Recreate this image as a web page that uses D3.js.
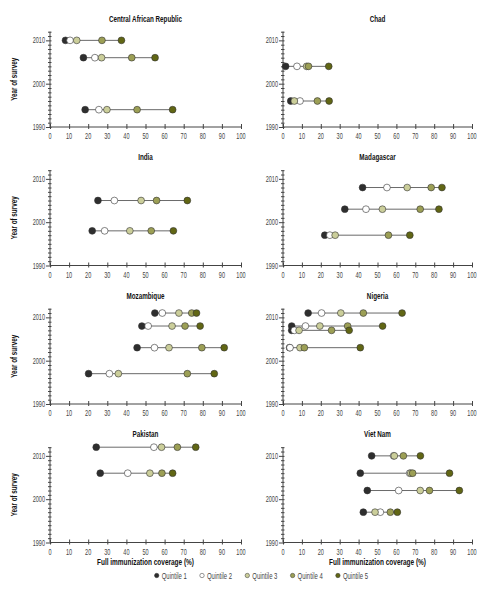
<!DOCTYPE html>
<html><head><meta charset="utf-8">
<script src="https://cdn.jsdelivr.net/npm/d3@7"></script>
<style>
body{margin:0;background:#fff}
svg{display:block;font-family:"Liberation Sans",Arial,sans-serif}
</style>
</head><body>
<svg id="chart" width="499" height="593"></svg>
<script>
// ---------- data ----------
const countries = ["Central African Republic","Chad","India","Madagascar","Mozambique","Nigeria","Pakistan","Viet Nam"];
const surveyYears = [
  [2010, 2006, 1994],
  [2004, 1996],
  [2005, 1998],
  [2008, 2003, 1997],
  [2011, 2008, 2003, 1997],
  [2011, 2008, 2007, 2003],
  [2012, 2006],
  [2010, 2006, 2002, 1997]
];
const quintile1 = [[8.1,17.5,18.4],[1.4,4.1],[25.1,22.1],[42.1,32.7,22.1],[54.9,48.1,45.6,20.2],[13.3,4.6,4.6,3.5],[24.2,26.3],[46.9,40.9,44.6,42.5]];
const quintile2 = [[10.5,23.5,25.6],[7.4,9.0],[33.7,28.6],[55.0,43.9,24.8],[58.8,51.4,54.7,31.1],[20.4,11.9,6.0,3.7],[54.4,40.7],[58.5,67.0,61.2,51.5]];
const quintile3 = [[14.0,27.0,29.8],[12.5,6.0],[47.7,41.8],[65.7,52.6,27.6],[67.5,63.9,62.3,35.8],[30.6,19.5,8.5,9.0],[58.4,52.3],[58.9,67.6,72.6,48.7]];
const quintile4 = [[27.2,42.8,45.6],[13.5,18.2],[55.8,53.0],[78.4,72.6,55.8],[74.2,70.7,79.5,71.9],[42.5,34.2,25.7,11.3],[66.7,58.6],[63.7,68.6,77.5,56.8]];
const quintile5 = [[37.4,55.0,64.2],[24.2,24.4],[71.9,64.6],[84.1,82.5,67.1],[76.7,78.6,91.2,86.0],[63.0,52.7,35.0,40.9],[76.3,64.2],[72.7,88.1,93.3,60.5]];
const quintileNames = ["Quintile 1","Quintile 2","Quintile 3","Quintile 4","Quintile 5"];
const quintileColors = ["#2e2e2e","#ffffff","#cbce9a","#9c9f55","#616614"];
const xTickValues = [0,10,20,30,40,50,60,70,80,90,100];
const yTickValues = [1990,2000,2010];
const yDomain = [1990, 2012];
const xDomain = [0, 100];
const xTitle = "Full immunization coverage (%)";
const yTitle = "Year of survey";

// ---------- helpers ----------
function label(parent, x, y, str, o) {
  o = o || {};
  let tr = `translate(${x},${y})`;
  if (o.rotate) tr += ` rotate(${o.rotate})`;
  tr += ` scale(${o.sx || 0.7},1)`;
  return parent.append("text").attr("transform", tr)
    .attr("text-anchor", o.anchor || "start")
    .attr("font-size", o.size || 9)
    .attr("font-weight", o.weight || "normal")
    .attr("fill", o.fill || "#444")
    .text(str);
}

// ---------- layout ----------
const svg = d3.select("#chart");
const colX = [[50, 241], [283, 472]];
const rowBottom = [127, 265.5, 404, 542.5];
const plotH = 95.3;
const axisColor = "#444";
const allQ = [quintile1, quintile2, quintile3, quintile4, quintile5];

countries.forEach((name, i) => {
  const col = i % 2, row = Math.floor(i / 2);
  const [x0, x1] = colX[col];
  const yb = rowBottom[row];
  const x = d3.scaleLinear().domain(xDomain).range([x0, x1]);
  const y = d3.scaleLinear().domain(yDomain).range([yb, yb - plotH]);
  const g = svg.append("g");

  // y axis (minor every year, labelled every 10)
  const yAxis = d3.axisLeft(y)
    .tickValues(d3.range(yDomain[0], yDomain[1] + 1))
    .tickSize(2).tickFormat("");
  const ya = g.append("g").attr("transform", `translate(${x0},0)`).call(yAxis);
  ya.select(".domain").remove();
  ya.selectAll(".tick line").attr("stroke", axisColor).attr("x1", 1.5)
    .attr("x2", d => yTickValues.includes(d) ? -4 : -2);
  g.append("line").attr("x1", x0).attr("x2", x0).attr("y1", y(yDomain[1])).attr("y2", yb).attr("stroke", axisColor);
  yTickValues.forEach(v => label(g, x0 - 5, y(v) + 3, v, {anchor: "end", size: 8.4, sx: 0.66}));

  // x axis
  const xAxis = d3.axisBottom(x).tickValues(xTickValues).tickSize(2).tickFormat("");
  const xa = g.append("g").attr("transform", `translate(0,${yb})`).call(xAxis);
  xa.select(".domain").remove();
  xa.selectAll(".tick line").attr("stroke", axisColor).attr("y1", -3);
  g.append("line").attr("x1", x0).attr("x2", x1).attr("y1", yb).attr("y2", yb).attr("stroke", axisColor);
  xTickValues.forEach(v => label(g, x(v), yb + 12, v, {anchor: "middle", size: 8.4, sx: 0.66}));

  // panel title
  label(g, (x0 + x1) / 2, y(yDomain[1]) - 10, name, {anchor: "middle", size: 9, weight: "bold", fill: "#111", sx: 0.7});

  if (col === 0) {
    label(g, 16.5, (yb + y(yDomain[1])) / 2, yTitle, {anchor: "middle", size: 9, weight: "bold", fill: "#111", sx: 0.7, rotate: -90});
  }
  if (row === 3) {
    label(g, (x0 + x1) / 2, yb + 22.5, xTitle, {anchor: "middle", size: 9, weight: "bold", fill: "#111", sx: 0.72});
  }

  // survey rows
  surveyYears[i].forEach((yr, j) => {
    const vals = allQ.map(q => q[i][j]);
    const lo = d3.min(vals), hi = d3.max(vals);
    g.append("line").attr("x1", x(lo)).attr("x2", x(hi)).attr("y1", y(yr)).attr("y2", y(yr))
      .attr("stroke", "#6a6a6a").attr("stroke-width", 1);
    vals.forEach((v, k) => {
      g.append("circle").attr("cx", x(v)).attr("cy", y(yr)).attr("r", 3.4)
        .attr("fill", quintileColors[k]).attr("stroke", "#333").attr("stroke-width", 0.6);
    });
  });
});

// legend
const lg = svg.append("g");
quintileNames.forEach((n, k) => {
  const lx = 156.7 + k * 45.3, ly = 575.5;
  lg.append("circle").attr("cx", lx).attr("cy", ly).attr("r", 2.2)
    .attr("fill", quintileColors[k]).attr("stroke", "#333").attr("stroke-width", 0.5);
  label(lg, lx + 5, ly + 3, n, {size: 8.5, sx: 0.7, fill: "#444"});
});
</script>
</body></html>
